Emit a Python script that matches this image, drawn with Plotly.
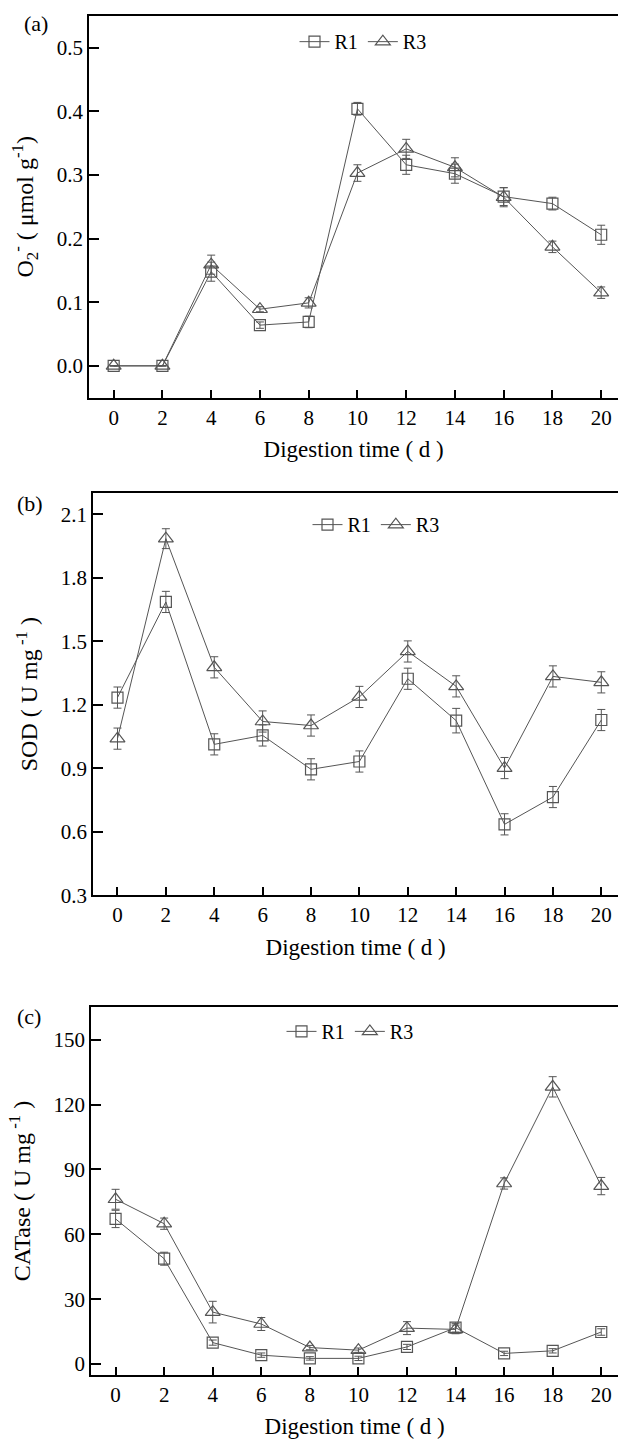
import plotly.graph_objects as go

# ---------------- data ----------------
days = [0, 2, 4, 6, 8, 10, 12, 14, 16, 18, 20]

o2_r1 = [0.0, 0.0, 0.148, 0.064, 0.069, 0.404, 0.316, 0.302, 0.266, 0.255, 0.206]
o2_r1_err = [0.0, 0.0, 0.015, 0.005, 0.009, 0.010, 0.015, 0.015, 0.014, 0.010, 0.015]
o2_r3 = [0.0, 0.0, 0.159, 0.089, 0.099, 0.303, 0.341, 0.312, 0.265, 0.187, 0.115]
o2_r3_err = [0.0, 0.0, 0.015, 0.004, 0.008, 0.013, 0.015, 0.015, 0.015, 0.009, 0.009]

sod_r1 = [1.234, 1.686, 1.013, 1.055, 0.895, 0.932, 1.323, 1.125, 0.635, 0.764, 1.128]
sod_r1_err = [0.05, 0.05, 0.05, 0.05, 0.05, 0.05, 0.05, 0.058, 0.05, 0.05, 0.05]
sod_r3 = [1.040, 1.985, 1.377, 1.121, 1.102, 1.237, 1.452, 1.287, 0.901, 1.334, 1.306]
sod_r3_err = [0.05, 0.047, 0.05, 0.05, 0.05, 0.05, 0.05, 0.05, 0.05, 0.05, 0.05]

cat_r1 = [67.1, 48.7, 9.9, 4.1, 2.6, 2.6, 7.9, 16.8, 4.9, 6.1, 14.8]
cat_r1_err = [4.0, 3.0, 1.2, 1.0, 0.8, 1.0, 1.2, 2.0, 1.0, 1.0, 1.5]
cat_r3 = [76.2, 64.9, 24.0, 18.5, 7.6, 6.4, 16.6, 16.0, 83.5, 128.2, 82.3]
cat_r3_err = [4.6, 2.6, 5.0, 3.0, 1.0, 1.0, 3.0, 2.0, 2.6, 4.7, 4.0]

x_ticks = [0, 2, 4, 6, 8, 10, 12, 14, 16, 18, 20]
y_ticks_a = [0.0, 0.1, 0.2, 0.3, 0.4, 0.5]
y_ticks_b = [0.3, 0.6, 0.9, 1.2, 1.5, 1.8, 2.1]
y_ticks_c = [0, 30, 60, 90, 120, 150]

x_title = "Digestion time ( d )"
y_title_a = "O<sub>2</sub><sup>-</sup> ( μmol g<sup>-1</sup>)"
y_title_b = "SOD ( U mg<sup> -1</sup> )"
y_title_c = "CATase ( U mg<sup> -1</sup> )"

# ---------------- style ----------------
W, H = 618, 1448
FONT = "Liberation Serif, Times New Roman, serif"
LINE_C = "#555555"
MARK_C = "#555555"

fig = go.Figure()

panels = [
    ("", o2_r1, o2_r1_err, o2_r3, o2_r3_err, "legend", [-0.05, 0.55], y_ticks_a, ".1f", y_title_a, 89.3, 16.0, 401.0),
    ("2", sod_r1, sod_r1_err, sod_r3, sod_r3_err, "legend2", [0.3, 2.2], y_ticks_b, ".1f", y_title_b, 93.3, 497.3, 902.7),
    ("3", cat_r1, cat_r1_err, cat_r3, cat_r3_err, "legend3", [-5, 165], y_ticks_c, "d", y_title_c, 91.3, 1015.7, 1386.3),
]

for suf, r1, e1, r3, e3, leg, yr, yt, fmt, ytitle, x0, ytop, ybot in panels:
    xa = "x" + suf
    ya = "y" + suf
    fig.add_trace(go.Scatter(
        x=days, y=r1, name="R1", mode="lines+markers", xaxis=xa, yaxis=ya, legend=leg,
        line=dict(color=LINE_C, width=1),
        marker=dict(symbol="square-open", size=11, color=MARK_C, line=dict(width=1.2)),
        error_y=dict(type="data", array=e1, visible=True, color=LINE_C, thickness=1, width=4),
    ))
    fig.add_trace(go.Scatter(
        x=days, y=r3, name="R3", mode="lines+markers", xaxis=xa, yaxis=ya, legend=leg,
        line=dict(color=LINE_C, width=1),
        marker=dict(symbol="triangle-up-open", size=13, color=MARK_C, line=dict(width=1.2)),
        error_y=dict(type="data", array=e3, visible=True, color=LINE_C, thickness=1, width=4),
    ))
    xkey = "xaxis" + suf
    ykey = "yaxis" + suf
    fig.update_layout(**{
        xkey: dict(
            domain=[x0 / W, 1.0], anchor=ya, range=[-1, 20.69],
            tickvals=x_ticks, ticks="inside", ticklen=8, tickwidth=2, tickcolor="black",
            showline=True, linewidth=2, linecolor="black", mirror=True,
            showgrid=False, zeroline=False,
            tickfont=dict(family=FONT, size=21, color="black"),
            title=dict(text=x_title, font=dict(family=FONT, size=23, color="black"), standoff=12),
        ),
        ykey: dict(
            domain=[1 - ybot / H, 1 - ytop / H], anchor=xa, range=yr,
            tickvals=yt, tickformat=fmt, ticks="inside", ticklen=10, tickwidth=2, tickcolor="black",
            showline=True, linewidth=2, linecolor="black", mirror=False,
            showgrid=False, zeroline=False,
            tickfont=dict(family=FONT, size=21, color="black"),
            title=dict(text=ytitle, font=dict(family=FONT, size=24, color="black"), standoff=16),
        ),
    })

legend_style = dict(orientation="h", xanchor="center", yanchor="middle",
                    font=dict(family=FONT, size=20, color="black"),
                    bgcolor="rgba(0,0,0,0)", itemwidth=30, tracegroupgap=0)
fig.update_layout(
    legend=dict(x=363 / W, y=1 - 42 / H, **legend_style),
    legend2=dict(x=376 / W, y=1 - 529 / H, **legend_style),
    legend3=dict(x=350 / W, y=1 - 1040 / H, **legend_style),
)

for label, px, py in [("(a)", 36, 24), ("(b)", 30, 508), ("(c)", 29, 1025)]:
    fig.add_annotation(text=label, x=px / W, y=1 - py / H, xref="paper", yref="paper",
                       showarrow=False, xanchor="center", yanchor="middle",
                       font=dict(family=FONT, size=22, color="black"))

fig.update_layout(
    width=W, height=H,
    margin=dict(l=0, r=0, t=0, b=0),
    paper_bgcolor="white", plot_bgcolor="white",
    showlegend=True,
)

fig.write_html("out.html", config={"displayModeBar": False},
               post_script="document.body.style.margin='0';document.body.style.padding='0';")
